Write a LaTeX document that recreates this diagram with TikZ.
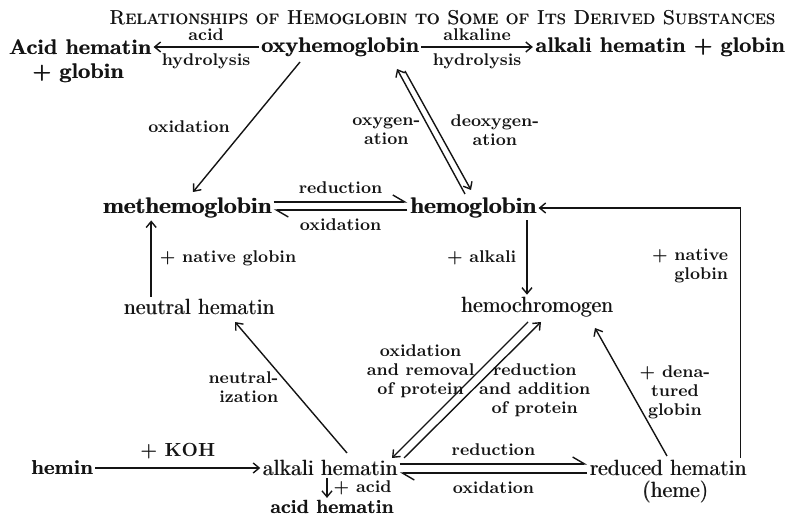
\documentclass[tikz,border=0pt]{standalone}
\usepackage{fontspec}
\usetikzlibrary{arrows.meta,calc,positioning}
\definecolor{ink}{RGB}{20,20,20}
% poor man's bold, the scan is heavier than Latin Modern
\newcommand\heft[2][0.35pt]{\leavevmode\rlap{\kern#1\relax#2}#2}
\tikzset{
  >={Straight Barb[length=3pt,width=5pt]},
  subst/.style={font=\fontsize{11}{13}\selectfont,inner sep=1pt,text=ink},
  bsubst/.style={font=\fontsize{10.5}{12.5}\selectfont\bfseries,inner sep=1pt,text=ink},
  heavy/.style={font=\fontsize{11.2}{13}\selectfont\bfseries,inner sep=1pt,text=ink},
  tag/.style={font=\fontsize{8.5}{9.5}\selectfont\bfseries,inner sep=1pt,text=ink,align=center},
  heading/.style={font=\fontsize{10}{12}\selectfont\scshape,text=ink},
  flow/.style={->,line width=0.7pt,draw=ink},
  half/.style={-{Straight Barb[harpoon,length=6pt,width=7pt]},line width=0.7pt,draw=ink},
}

\begin{document}
\begin{tikzpicture}[x=0.5pt,y=-0.5pt]
  \useasboundingbox (0,0) rectangle (789,523);
  \node[heading] (ttl) at (442,18) {\heft[0.3pt]{Relationships of Hemoglobin to Some of Its Derived Substances}};
  % substances
  \node[bsubst] (oxy) at (340,47) {\heft[0.3pt]{oxyhemoglobin}};
  \node[bsubst] (acid) at (80,47) {\heft[0.3pt]{Acid hematin}};
  \node[bsubst] (acidg) at (78,73) {\heft[0.3pt]{+ globin}};
  \node[bsubst] (alk) at (660,47) {\heft[0.3pt]{alkali hematin + globin}};
  \node[heavy] (meth) at (187,208) {\heft[0.5pt]{methemoglobin}};
  \node[heavy] (hb) at (473,208) {\heft[0.5pt]{hemoglobin}};
  \node[subst] (nh) at (199,307) {\heft{neutral hematin}};
  \node[subst] (hc) at (537,307) {\heft{hemochromogen}};
  \node[bsubst,font=\fontsize{10}{12}\selectfont\bfseries] (hemin) at (62,468) {\heft[0.25pt]{hemin}};
  \node[subst] (ah) at (330,468) {\heft{alkali hematin}};
  \node[subst] (rh) at (668,468) {\heft{reduced hematin}};
  \node[subst] (heme) at (675,492) {\heft{(heme)}};
  \node[bsubst,font=\fontsize{9.5}{11}\selectfont\bfseries] (acidh) at (332,507) {\heft[0.2pt]{acid hematin}};

  % top row
  \draw[flow] (oxy.west) -- (oxy.west -| acid.east)
    node[tag,midway,above=2pt] {acid} node[tag,midway,below=2pt] {hydrolysis};
  \draw[flow] (oxy.east) -- (alk.west)
    node[tag,midway,above=2pt] {alkaline} node[tag,midway,below=2pt] {hydrolysis};
  \draw[flow] ($(oxy)+(-40,15)$) -- ($(meth)+(6,-16)$) node[tag,midway,left=7pt] {oxidation};
  \draw[flow] ($(hb)+(-8,-14)$) -- ($(oxy)+(57,22)$) node[tag,midway,left=4pt] {oxygen-\\ation};
  \draw[flow] ($(oxy)+(65,24)$) -- ($(hb)+(-2,-18)$) node[tag,midway,right=5pt] {deoxygen-\\ation};

  % middle
  \draw[half] ($(meth.east)+(0,-6)$) -- ($(hb.west)+(0,-6)$) node[tag,midway,above=3pt] {reduction};
  \draw[half] ($(hb.west)+(0,2)$) -- ($(meth.east)+(0,2)$) node[tag,midway,below=3pt] {oxidation};
  \draw[flow] ($(hb.south -| hc.north)+(-10,0)$) -- ($(hc.north)+(-10,0)$)
    node[tag,midway,left=4pt] {+ alkali};
  \draw[flow] ($(rh.north east)+(-8,0)$) |- (hb.east)
    node[tag,pos=0.385,left=5pt,align=right] {+ native\\globin};
  \draw[flow] ($(nh.north west)+(30,0)$) coordinate (up) -- (up |- meth.south)
    node[tag,midway,right=3pt] {+ native globin};

  % bottom
  \draw[flow] ($(ah)+(17,-15)$) -- ($(nh)+(36,15)$) node[tag,midway,left=5pt,align=right] {neutral-\\ization};
  \draw[flow] ($(hc)+(-9,15)$) -- ($(ah)+(62,-10)$)
    node[tag,pos=0.36,left=1pt] {oxidation\\and removal\\of protein};
  \draw[flow] ($(ah)+(74,-10)$) -- ($(hc)+(4,15)$)
    node[tag,pos=0.5,right=2pt] {reduction\\and addition\\of protein};
  \draw[flow] ($(rh)+(-1,-12)$) -- ($(hc)+(58,21)$) node[tag,midway,right=3pt] {+ dena-\\tured\\globin};
  \draw[flow] (hemin.east) -- (hemin.east -| ah.west)
    node[tag,midway,above=3pt,font=\fontsize{9.5}{11}\selectfont\bfseries] {+ KOH};
  \draw[half] ($(ah.east)+(0,-4)$) -- ($(rh.west)+(0,-4)$) node[tag,midway,above=3pt] {reduction};
  \draw[half] ($(rh.west)+(0,5)$) -- ($(ah.east)+(0,5)$) node[tag,midway,below=3pt] {oxidation};
  \draw[flow] ($(ah.south)+(-3,0)$) coordinate (dn) -- (dn |- acidh.north)
    node[tag,midway,right=2pt] {+ acid};
\end{tikzpicture}
\end{document}
